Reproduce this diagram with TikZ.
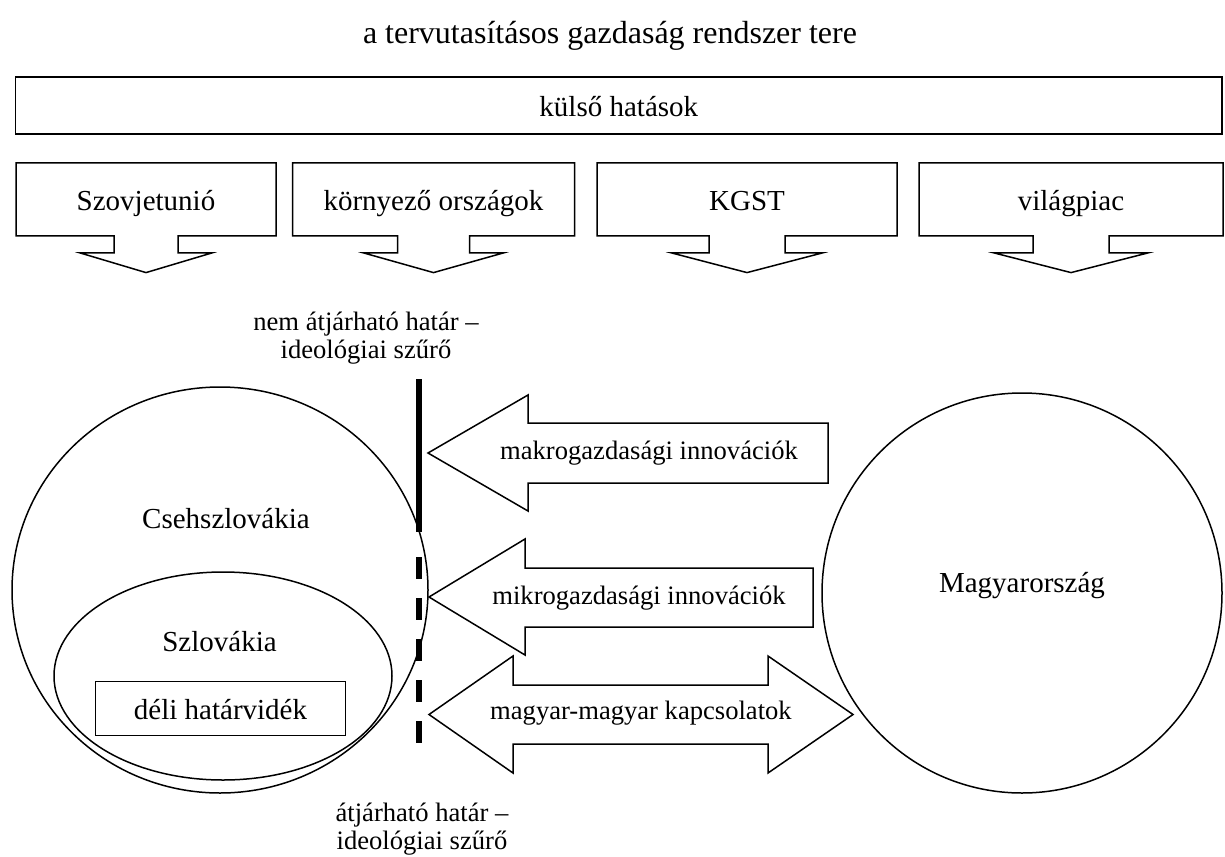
\documentclass[tikz,border=0pt]{standalone}
\usepackage{fontspec}
\setmainfont{Liberation Serif}
\usepackage{tikz}
\usetikzlibrary{shapes.geometric}

\begin{document}
\begin{tikzpicture}[x=0.5pt, y=-0.5pt, line width=0.75pt,
	txt/.style={font=\fontsize{14.5}{17}\selectfont, inner sep=0pt},
	smalltxt/.style={font=\fontsize{13.3}{14}\selectfont, inner sep=0pt, align=center},
	callbox/.style={txt, text height=13pt, text depth=2.4pt, minimum height=36.5pt, outer sep=0pt},
	region/.style={draw, ellipse, inner sep=0pt},
	border/.style={line width=3pt}]
				\useasboundingbox (0,0) rectangle (1225,856);
				\node[font=\fontsize{16}{19}\selectfont, anchor=base] (title) at (610, 44) {a tervutasításos gazdaság rendszer tere};
				\node[draw, callbox, minimum width=603.2pt, minimum height=28.5pt] (hatasok) at (618.8, 105.5) {külső hatások};
				\foreach \nm/\cx/\w/\s/\h/\lbl in {szu/146/260/32/66/Szovjetunió, ko/433.5/282/36/70/környező országok, kgst/747/300/38/75.5/KGST, vp/1071/304/38/77/világpiac} {
					\node[callbox, minimum width=\w*0.5pt] (\nm) at (\cx, 199.4) {\lbl};
					\draw (\nm.south) ++(\s,0) -| (\nm.north east) -| (\nm.south west) -- ++(\w/2-\s,0) -- ++(0,17) -- ++(\s-\h,0) -- ++(\h,19.7) -- ++(\h,-19.7) -- ++(\s-\h,0) -- ++(0,-17) -- cycle;
				}
				\node[region, minimum width=208pt, minimum height=203pt] (cs) at (220, 590) {};
				\node[region, minimum width=169pt, minimum height=104pt] (sk) at (223, 676) {};
				\node[txt] (cslbl) at (226, 519) {Csehszlovákia};
				\node[txt] (sklbl) at (219.5, 642) {Szlovákia};
				\node[draw, callbox, minimum width=124.8pt, minimum height=27pt] (deli) at (220.5, 708.7) {déli határvidék};
				\node[draw, circle, minimum size=200pt, inner sep=0pt] (hu) at (1022, 593) {};
				\node[txt] (hulbl) at (1022, 586) {Magyarország};
				\coordinate (bt) at (419, 379);
				\coordinate (bm) at (419, 532);
				\coordinate (bd) at (419, 557);
				\coordinate (bb) at (419, 743);
				\draw[border] (bt) -- (bm);
				\draw[border, dash pattern=on 11pt off 9.5pt] (bd) -- (bb);
				\node[smalltxt] (nemlbl) at (366, 338) {nem átjárható határ –\\ideológiai szűrő};
				\node[smalltxt] (atlbl) at (422, 829) {átjárható határ –\\ideológiai szűrő};
				\draw (428, 453) -- (528, 395) -- (528, 423) -- (828, 423) -- (828, 483) -- (528, 483) -- (528, 511) -- cycle;
				\draw (429, 597) -- (525, 539) -- (525, 568) -- (813, 568) -- (813, 627) -- (525, 627) -- (525, 655) -- cycle;
				\draw (429, 714.5) -- (513, 656) -- (513, 685) -- (768, 685) -- (768, 656) -- (853, 714.5) -- (768, 773) -- (768, 744) -- (513, 744) -- (513, 773) -- cycle;
				\node[smalltxt] (makro) at (649, 453) {makrogazdasági innovációk};
				\node[smalltxt] (mikro) at (639, 598.6) {mikrogazdasági innovációk};
				\node[smalltxt] (mm) at (641, 713.6) {magyar-magyar kapcsolatok};
			\end{tikzpicture}
\end{document}
